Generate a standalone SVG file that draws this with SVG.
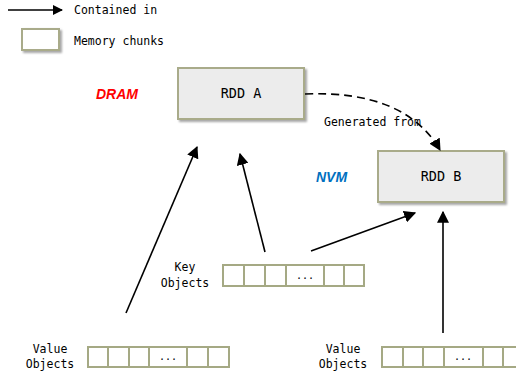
<svg xmlns="http://www.w3.org/2000/svg" width="516" height="375" viewBox="0 0 516 375">
  <defs>
    <marker id="arrow" viewBox="0 0 10 10" refX="9" refY="5" markerWidth="10" markerHeight="10" markerUnits="userSpaceOnUse" orient="auto">
      <path d="M0,0 L10,5 L0,10 z" fill="#000"/>
    </marker>
    <marker id="arrowL" viewBox="0 0 10 10" refX="9" refY="5" markerWidth="12" markerHeight="12" markerUnits="userSpaceOnUse" orient="auto">
      <path d="M0,0 L10,5 L0,10 z" fill="#000"/>
    </marker>
    <filter id="shadow" x="-10%" y="-10%" width="130%" height="140%">
      <feGaussianBlur in="SourceAlpha" stdDeviation="1.2"/>
      <feOffset dx="1.5" dy="1.5" result="b"/>
      <feComponentTransfer><feFuncA type="linear" slope="0.35"/></feComponentTransfer>
      <feMerge><feMergeNode/><feMergeNode in="SourceGraphic"/></feMerge>
    </filter>
  </defs>
  <style>
    .mono { font-family: "DejaVu Sans Mono", "Liberation Mono", monospace; font-size: 11.5px; fill: #000; }
    .rdd { fill: #ececec; stroke: #a9ab8a; stroke-width: 2; filter: url(#shadow); }
    .rddlabel { font-family: "DejaVu Sans Mono", "Liberation Mono", monospace; font-size: 13.5px; fill: #000; text-anchor: middle; }
    .cell { fill: #fff; stroke: #a5a984; stroke-width: 2; }
    .dots { font-family: "DejaVu Sans Mono", monospace; font-size: 10px; fill: #000; text-anchor: middle; }
    .conn { stroke: #000; stroke-width: 1.6; fill: none; marker-end: url(#arrowL); }
    .region { font-family: "Liberation Sans", Arial, sans-serif; font-size: 14px; font-weight: bold; font-style: italic; }
  </style>

  <!-- legend -->
  <g id="legend">
    <line x1="8" y1="10" x2="62" y2="10" stroke="#000" stroke-width="1.5" marker-end="url(#arrow)"/>
    <text class="mono" x="74" y="14">Contained in</text>
    <rect x="22" y="29" width="37" height="21" fill="#fff" stroke="#a9ab8a" stroke-width="2" filter="url(#shadow)"/>
    <text class="mono" x="74" y="45">Memory chunks</text>
  </g>

  <!-- memory regions -->
  <text class="region" x="96" y="99" fill="#ff0000">DRAM</text>
  <text class="region" x="316" y="182" fill="#0070c0">NVM</text>

  <g id="rddA">
    <rect class="rdd" x="178" y="68" width="126" height="51"/>
    <text class="rddlabel" x="241" y="98">RDD A</text>
  </g>

  <g id="rddB">
    <rect class="rdd" x="378" y="151" width="126" height="51"/>
    <text class="rddlabel" x="441" y="181">RDD B</text>
  </g>

  <g id="keyObjects">
    <text class="mono" x="185" y="271" text-anchor="middle">Key</text>
    <text class="mono" x="185" y="287" text-anchor="middle">Objects</text>
    <rect class="cell" x="223" y="265" width="21" height="21"/>
    <rect class="cell" x="244" y="265" width="21" height="21"/>
    <rect class="cell" x="265" y="265" width="21" height="21"/>
    <rect class="cell" x="286" y="265" width="38" height="21"/>
    <rect class="cell" x="324" y="265" width="20" height="21"/>
    <rect class="cell" x="344" y="265" width="20" height="21"/>
    <text class="dots" x="305" y="279">...</text>
  </g>

  <g id="valueObjectsA">
    <text class="mono" x="50" y="353" text-anchor="middle">Value</text>
    <text class="mono" x="50" y="368" text-anchor="middle">Objects</text>
    <rect class="cell" x="88" y="347" width="20" height="20"/>
    <rect class="cell" x="108" y="347" width="21" height="20"/>
    <rect class="cell" x="129" y="347" width="20" height="20"/>
    <rect class="cell" x="149" y="347" width="38" height="20"/>
    <rect class="cell" x="187" y="347" width="21" height="20"/>
    <rect class="cell" x="208" y="347" width="21" height="20"/>
    <text class="dots" x="168" y="360">...</text>
  </g>

  <g id="valueObjectsB">
    <text class="mono" x="343" y="353" text-anchor="middle">Value</text>
    <text class="mono" x="343" y="368" text-anchor="middle">Objects</text>
    <rect class="cell" x="382" y="347" width="21" height="20"/>
    <rect class="cell" x="403" y="347" width="20" height="20"/>
    <rect class="cell" x="423" y="347" width="21" height="20"/>
    <rect class="cell" x="444" y="347" width="39" height="20"/>
    <rect class="cell" x="483" y="347" width="20" height="20"/>
    <rect class="cell" x="503" y="347" width="20" height="20"/>
    <text class="dots" x="463" y="360">...</text>
  </g>

  <!-- connectors -->
  <g id="connectors">
    <path d="M305,94 Q405,90 440,150" stroke="#000" stroke-width="1.6" fill="none" stroke-dasharray="8,5" marker-end="url(#arrowL)"/>
    <text class="mono" x="324" y="126">Generated from</text>
    <line class="conn" x1="126" y1="313" x2="197" y2="147"/>
    <line class="conn" x1="265" y1="252" x2="240" y2="154"/>
    <line class="conn" x1="311" y1="251" x2="415" y2="213"/>
    <line class="conn" x1="443" y1="333" x2="443" y2="212"/>
  </g>
</svg>
